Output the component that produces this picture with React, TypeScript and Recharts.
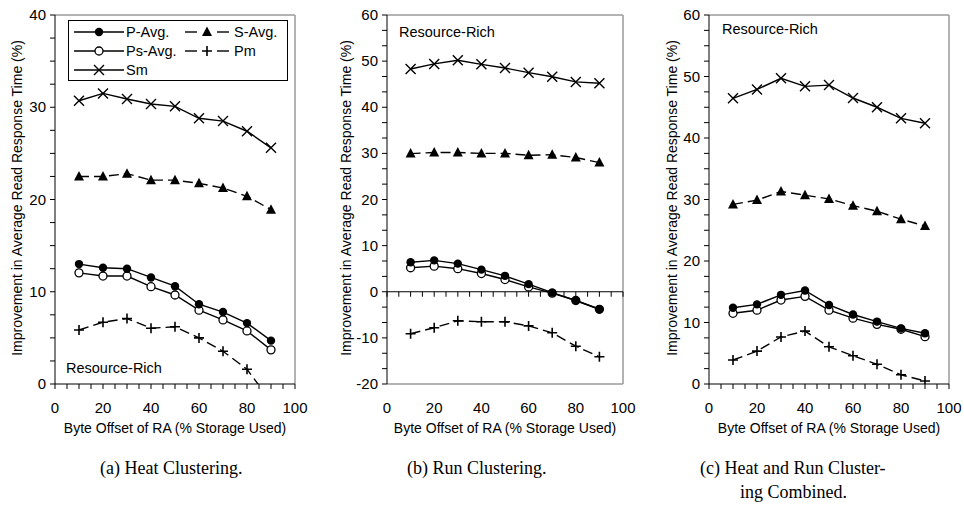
import React from 'react';
import { LineChart, Line, XAxis, YAxis, ReferenceLine, ReferenceDot } from 'recharts';

// byte offset of RA (% storage used)
const offsets = [10, 20, 30, 40, 50, 60, 70, 80, 90];

// (a) heat clustering
const heatPAvg = [13.0, 12.6, 12.5, 11.55, 10.6, 8.65, 7.8, 6.6, 4.7];
const heatPsAvg = [12.05, 11.7, 11.7, 10.55, 9.65, 8.0, 6.95, 5.75, 3.7];
const heatSAvg = [22.5, 22.5, 22.8, 22.1, 22.1, 21.75, 21.25, 20.35, 18.9];
const heatPm = [5.85, 6.7, 7.1, 6.05, 6.2, 5.0, 3.55, 1.6, -1.9];
const heatSm = [30.7, 31.5, 30.9, 30.35, 30.1, 28.8, 28.5, 27.4, 25.6];

// (b) run clustering
const runPAvg = [6.4, 6.8, 6.1, 4.8, 3.45, 1.65, -0.2, -1.9, -3.8];
const runPsAvg = [5.2, 5.55, 5.0, 3.95, 2.65, 1.05, -0.3, -1.9, -3.8];
const runSAvg = [29.95, 30.2, 30.2, 30.0, 30.0, 29.6, 29.7, 29.1, 28.0];
const runPm = [-9.1, -7.8, -6.3, -6.5, -6.5, -7.4, -8.9, -11.8, -14.1];
const runSm = [48.3, 49.4, 50.2, 49.3, 48.5, 47.5, 46.6, 45.5, 45.2];

// (c) heat and run clustering combined
const bothPAvg = [12.4, 12.95, 14.5, 15.2, 12.85, 11.3, 10.15, 9.05, 8.25];
const bothPsAvg = [11.5, 12.0, 13.65, 14.25, 12.0, 10.7, 9.7, 8.9, 7.7];
const bothSAvg = [29.2, 29.9, 31.3, 30.7, 30.1, 29.0, 28.1, 26.8, 25.7];
const bothPm = [3.9, 5.35, 7.65, 8.6, 6.05, 4.6, 3.2, 1.5, 0.5];
const bothSm = [46.45, 47.9, 49.7, 48.4, 48.6, 46.5, 45.0, 43.2, 42.4];

const seriesNames = ['P-Avg.', 'Ps-Avg.', 'S-Avg.', 'Pm', 'Sm'];
const xLabelTicks = [0, 20, 40, 60, 80, 100];

const FONT = '"Liberation Sans", Arial, Helvetica, sans-serif';
const SERIF = '"Liberation Serif", "Times New Roman", serif';
const FRAME = '#9a9a9a';

const steps = (lo: number, hi: number, n: number) => {
  const out: number[] = [];
  for (let i = 0; i <= n; i++) out.push(lo + ((hi - lo) * i) / n);
  return out;
};
const xTicks = steps(0, 100, 20);

const isMajor = (v: number) => Math.abs(v / 10 - Math.round(v / 10)) < 1e-6;

const buildRows = (p: number[], ps: number[], s: number[], pm: number[], sm: number[]) =>
  offsets.map((x, i) => ({ x, pAvg: p[i], psAvg: ps[i], sAvg: s[i], pm: pm[i], sm: sm[i] }));

// ---- markers ----
const FilledDot = ({ cx, cy }: any) => <circle cx={cx} cy={cy} r={4.2} fill="#000" />;
const OpenDot = ({ cx, cy }: any) => <circle cx={cx} cy={cy} r={4} fill="#fff" stroke="#000" strokeWidth={1.3} />;
const TriDot = ({ cx, cy }: any) => (
  <polygon points={`${cx},${cy - 5.5} ${cx - 5},${cy + 4} ${cx + 5},${cy + 4}`} fill="#000" />
);
const CrossDot = ({ cx, cy }: any) => (
  <path d={`M${cx - 5},${cy - 5}L${cx + 5},${cy + 5}M${cx - 5},${cy + 5}L${cx + 5},${cy - 5}`} stroke="#000" strokeWidth={1.4} />
);
const PlusDot = ({ cx, cy }: any) => (
  <path d={`M${cx - 5},${cy}L${cx + 5},${cy}M${cx},${cy - 5}L${cx},${cy + 5}`} stroke="#000" strokeWidth={1.6} />
);

const YTick = ({ x, y, payload }: any) =>
  isMajor(payload.value) ? (
    <text x={x} y={y} dy={5} textAnchor="end" fontSize={15} fontFamily={FONT} fill="#000">
      {Math.round(payload.value)}
    </text>
  ) : null;

const XTick = ({ x, y, payload }: any) =>
  xLabelTicks.includes(Math.round(payload.value)) ? (
    <text x={x} y={y} dy="0.71em" textAnchor="middle" fontSize={15} fontFamily={FONT} fill="#000">
      {Math.round(payload.value)}
    </text>
  ) : null;

const DownTick = ({ cx, cy }: any) => <line x1={cx} y1={cy} x2={cx} y2={cy + 5} stroke="#000" strokeWidth={1} />;

interface PanelProps {
  rows: any[];
  yMin: number;
  yMax: number;
  yDiv: number;
  left: number;
  width: number;
  marginLeft: number;
  marginRight: number;
  zeroAxis?: boolean;
}

function Panel({ rows, yMin, yMax, yDiv, left, width, marginLeft, marginRight, zeroAxis }: PanelProps) {
  const yTicks = steps(yMin, yMax, yDiv);
  return (
    <div style={{ position: 'absolute', left, top: 0 }}>
      <LineChart
        width={width}
        height={440}
        data={rows}
        margin={{ top: 15, right: marginRight, bottom: 26, left: marginLeft }}
      >
        <XAxis
          dataKey="x"
          type="number"
          domain={[0, 100]}
          ticks={xTicks}
          interval={0}
          tick={<XTick />}
          tickSize={5}
          tickMargin={13}
          tickLine={zeroAxis ? false : { stroke: '#000' }}
          axisLine={{ stroke: zeroAxis ? FRAME : '#000', strokeWidth: zeroAxis ? 1.5 : 1 }}
          height={30}
        />
        <YAxis
          type="number"
          domain={[yMin, yMax]}
          ticks={yTicks}
          interval={0}
          allowDataOverflow
          tick={<YTick />}
          tickSize={5}
          tickMargin={4}
          tickLine={{ stroke: '#000' }}
          axisLine={{ stroke: '#000' }}
          width={45}
        />
        <ReferenceLine y={yMax} stroke={FRAME} strokeWidth={1.5} />
        <ReferenceLine x={100} stroke={FRAME} strokeWidth={1.5} />
        {zeroAxis && <ReferenceLine y={0} stroke="#000" strokeWidth={1} />}
        {zeroAxis &&
          xTicks.map((t) => <ReferenceDot key={t} x={t} y={0} r={0} shape={<DownTick />} />)}
        <Line dataKey="sm" name="Sm" stroke="#000" strokeWidth={1.4} dot={<CrossDot />} isAnimationActive={false} />
        <Line dataKey="sAvg" name="S-Avg." stroke="#000" strokeWidth={1.4} strokeDasharray="10 5" dot={<TriDot />} isAnimationActive={false} />
        <Line dataKey="psAvg" name="Ps-Avg." stroke="#000" strokeWidth={1.4} dot={<OpenDot />} isAnimationActive={false} />
        <Line dataKey="pAvg" name="P-Avg." stroke="#000" strokeWidth={1.4} dot={<FilledDot />} isAnimationActive={false} />
        <Line dataKey="pm" name="Pm" stroke="#000" strokeWidth={1.4} strokeDasharray="10 5" dot={<PlusDot />} isAnimationActive={false} />
      </LineChart>
    </div>
  );
}

const LegendSwatch = ({ marker, dashed }: { marker: React.ReactNode; dashed?: boolean }) => (
  <svg width={50} height={12} style={{ display: 'block' }}>
    {dashed ? (
      <>
        <line x1={3} y1={6} x2={15} y2={6} stroke="#000" strokeWidth={1.4} />
        <line x1={35} y1={6} x2={47} y2={6} stroke="#000" strokeWidth={1.4} />
      </>
    ) : (
      <line x1={0} y1={6} x2={50} y2={6} stroke="#000" strokeWidth={1.4} />
    )}
    {marker}
  </svg>
);

function LegendBox() {
  const item = (label: string, marker: React.ReactNode, dashed?: boolean) => (
    <div style={{ display: 'flex', alignItems: 'center', height: 19 }}>
      <LegendSwatch marker={marker} dashed={dashed} />
      <span style={{ marginLeft: 2 }}>{label}</span>
    </div>
  );
  return (
    <div
      style={{
        position: 'absolute',
        left: 68,
        top: 20,
        width: 213,
        height: 58,
        border: '1px solid #000',
        background: '#fff',
        fontFamily: FONT,
        fontSize: 14.5,
        display: 'grid',
        gridTemplateColumns: '108px 100px',
        paddingLeft: 5,
        paddingTop: 1,
        boxSizing: 'content-box',
      }}
    >
      {item(seriesNames[0], <FilledDot cx={25} cy={6} />)}
      {item(seriesNames[2], <TriDot cx={25} cy={6} />, true)}
      {item(seriesNames[1], <OpenDot cx={25} cy={6} />)}
      {item(seriesNames[3], <PlusDot cx={25} cy={6} />, true)}
      {item(seriesNames[4], <CrossDot cx={25} cy={6} />)}
    </div>
  );
}

const txt = (s: string, left: number, top: number, extra: React.CSSProperties = {}) => (
  <div style={{ position: 'absolute', left, top, fontFamily: FONT, fontSize: 14.5, whiteSpace: 'nowrap', lineHeight: 1, ...extra }}>
    {s}
  </div>
);

const yTitle = (cx: number) => (
  <div
    style={{
      position: 'absolute',
      left: cx,
      top: 198,
      transform: 'translate(-50%, -50%) rotate(-90deg)',
      fontFamily: FONT,
      fontSize: 14,
      whiteSpace: 'nowrap',
      lineHeight: 1,
    }}
  >
    Improvement in Average Read Response Time (%)
  </div>
);

const xTitle = (cx: number) => (
  <div
    style={{
      position: 'absolute',
      left: cx,
      top: 428,
      transform: 'translate(-50%, -50%)',
      fontFamily: FONT,
      fontSize: 14,
      whiteSpace: 'nowrap',
      lineHeight: 1,
    }}
  >
    Byte Offset of RA (% Storage Used)
  </div>
);

const caption = (s: string, left: number, top: number) => (
  <div style={{ position: 'absolute', left, top, fontFamily: SERIF, fontSize: 18, whiteSpace: 'nowrap', lineHeight: 1 }}>
    {s}
  </div>
);

export default function App() {
  return (
    <div style={{ position: 'absolute', left: 0, top: 0, width: 964, height: 529, background: '#fff', overflow: 'hidden' }}>
      <Panel rows={buildRows(heatPAvg, heatPsAvg, heatSAvg, heatPm, heatSm)} yMin={0} yMax={40} yDiv={16}
        left={0} width={320} marginLeft={10} marginRight={25} />
      <Panel rows={buildRows(runPAvg, runPsAvg, runSAvg, runPm, runSm)} yMin={-20} yMax={60} yDiv={24}
        left={320} width={320} marginLeft={22} marginRight={17} zeroAxis />
      <Panel rows={buildRows(bothPAvg, bothPsAvg, bothSAvg, bothPm, bothSm)} yMin={0} yMax={60} yDiv={24}
        left={640} width={324} marginLeft={24} marginRight={15} />

      <LegendBox />

      {txt('Resource-Rich', 66, 361)}
      {txt('Resource-Rich', 399, 25)}
      {txt('Resource-Rich', 722, 22)}

      {yTitle(17)}
      {yTitle(346)}
      {yTitle(672)}
      {xTitle(175)}
      {xTitle(505)}
      {xTitle(829)}

      {caption('(a) Heat Clustering.', 100, 459)}
      {caption('(b) Run Clustering.', 407, 459)}
      {caption('(c) Heat and Run Cluster-', 700, 459)}
      {caption('ing Combined.', 740, 483)}
    </div>
  );
}
